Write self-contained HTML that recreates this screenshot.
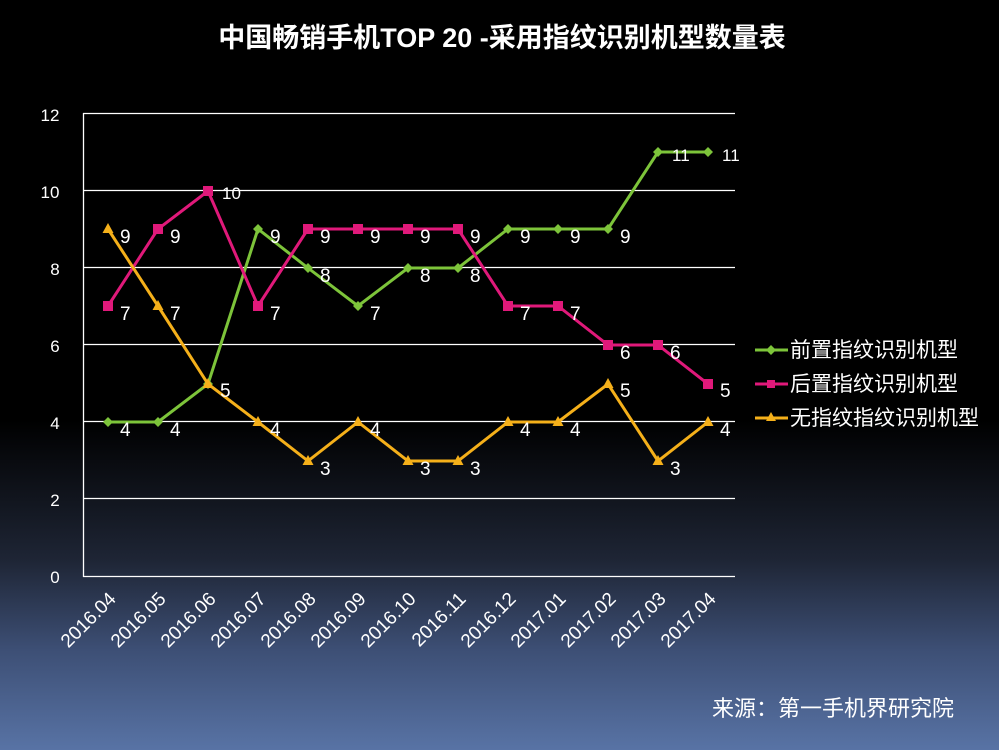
<!DOCTYPE html>
<html><head><meta charset="utf-8"><style>
body{margin:0;width:999px;height:750px;overflow:hidden;background:linear-gradient(to bottom,#000 0px,#000 420px,#1e2535 560px,#3d4f75 650px,#5873a5 750px);font-family:"Liberation Sans","Noto Sans CJK SC",sans-serif;}
svg{display:block}
</style></head><body>
<svg width="999" height="750" xmlns="http://www.w3.org/2000/svg" font-family="Liberation Sans, Noto Sans CJK SC, sans-serif">
<defs>
<marker id="md" markerWidth="12" markerHeight="12" refX="6" refY="6" markerUnits="userSpaceOnUse"><path d="M6 1l5 5-5 5-5-5z" fill="#7dc43a"/></marker>
<marker id="ms" markerWidth="12" markerHeight="12" refX="6" refY="6" markerUnits="userSpaceOnUse"><rect x="1" y="1" width="10" height="10" fill="#e0197a"/></marker>
<marker id="mt" markerWidth="12" markerHeight="12" refX="6" refY="6" markerUnits="userSpaceOnUse"><path d="M6 0l5.5 10h-11z" fill="#f5b01a"/></marker>
</defs>
<text x="502" y="47" text-anchor="middle" fill="#fff" font-size="27" font-weight="bold">中国畅销手机TOP 20 -采用指纹识别机型数量表</text>
<g stroke="#fff" stroke-width="1.3">
<line x1="83" y1="113.5" x2="735" y2="113.5"/>
<line x1="83" y1="190.5" x2="735" y2="190.5"/>
<line x1="83" y1="267.5" x2="735" y2="267.5"/>
<line x1="83" y1="344.5" x2="735" y2="344.5"/>
<line x1="83" y1="421.5" x2="735" y2="421.5"/>
<line x1="83" y1="498.5" x2="735" y2="498.5"/>
<line x1="83" y1="576.5" x2="735" y2="576.5"/>
<line x1="83.5" y1="113" x2="83.5" y2="577"/>
</g>
<g fill="#fff" font-size="17" text-anchor="middle">
<text x="50" y="121">12</text><text x="50" y="198">10</text><text x="55" y="275">8</text>
<text x="55" y="352">6</text><text x="55" y="429">4</text><text x="55" y="506">2</text><text x="55" y="583">0</text>
</g>
<g fill="#fff" font-size="19" text-anchor="end">
<text transform="translate(117,600) rotate(-45)">2016.04</text>
<text transform="translate(167,600) rotate(-45)">2016.05</text>
<text transform="translate(217,600) rotate(-45)">2016.06</text>
<text transform="translate(267,600) rotate(-45)">2016.07</text>
<text transform="translate(317,600) rotate(-45)">2016.08</text>
<text transform="translate(367,600) rotate(-45)">2016.09</text>
<text transform="translate(417,600) rotate(-45)">2016.10</text>
<text transform="translate(467,600) rotate(-45)">2016.11</text>
<text transform="translate(517,600) rotate(-45)">2016.12</text>
<text transform="translate(567,600) rotate(-45)">2017.01</text>
<text transform="translate(617,600) rotate(-45)">2017.02</text>
<text transform="translate(667,600) rotate(-45)">2017.03</text>
<text transform="translate(717,600) rotate(-45)">2017.04</text>
</g>
<g fill="none" stroke-width="3">
<polyline stroke="#7dc43a" marker-start="url(#md)" marker-mid="url(#md)" marker-end="url(#md)" points="108,422 158,422 208,384 258,229 308,268 358,306 408,268 458,268 508,229 558,229 608,229 658,152 708,152"/>
<polyline stroke="#e0197a" marker-start="url(#ms)" marker-mid="url(#ms)" marker-end="url(#ms)" points="108,306 158,229 208,191 258,306 308,229 358,229 408,229 458,229 508,306 558,306 608,345 658,345 708,384"/>
<polyline stroke="#f5b01a" marker-start="url(#mt)" marker-mid="url(#mt)" marker-end="url(#mt)" points="108,229 158,306 208,384 258,422 308,461 358,422 408,461 458,461 508,422 558,422 608,384 658,461 708,422"/>
</g>
<g fill="#fff" font-size="19">
<text x="120" y="436">4</text><text x="170" y="436">4</text><text x="220" y="397">5</text><text x="270" y="243">9</text><text x="320" y="282">8</text><text x="370" y="320">7</text><text x="420" y="282">8</text><text x="470" y="282">8</text><text x="520" y="243">9</text><text x="570" y="243">9</text><text x="620" y="243">9</text>
<text x="120" y="320">7</text><text x="170" y="243">9</text><text x="270" y="320">7</text><text x="320" y="243">9</text><text x="370" y="243">9</text><text x="420" y="243">9</text><text x="470" y="243">9</text><text x="520" y="320">7</text><text x="570" y="320">7</text><text x="620" y="359">6</text><text x="670" y="359">6</text><text x="720" y="397">5</text>
<text x="120" y="243">9</text><text x="170" y="320">7</text><text x="270" y="436">4</text><text x="320" y="475">3</text><text x="370" y="436">4</text><text x="420" y="475">3</text><text x="470" y="475">3</text><text x="520" y="436">4</text><text x="570" y="436">4</text><text x="620" y="397">5</text><text x="670" y="475">3</text><text x="720" y="436">4</text>
</g>
<g fill="#fff" font-size="17">
<text x="222" y="199">10</text><text x="672" y="161">11</text><text x="722" y="161">11</text>
</g>
<g font-size="21" fill="#fff">
<line x1="755" y1="350" x2="788" y2="350" stroke="#7dc43a" stroke-width="3"/><path d="M771 345l5 5-5 5-5-5z" fill="#7dc43a"/>
<text x="790" y="357">前置指纹识别机型</text>
<line x1="755" y1="384" x2="788" y2="384" stroke="#e0197a" stroke-width="3"/><rect x="767" y="380" width="8" height="8" fill="#e0197a"/>
<text x="790" y="391">后置指纹识别机型</text>
<line x1="755" y1="418" x2="788" y2="418" stroke="#f5b01a" stroke-width="3"/><path d="M771 412l5 9h-10z" fill="#f5b01a"/>
<text x="790" y="425">无指纹指纹识别机型</text>
</g>
<text x="712" y="716" fill="#fff" font-size="22">来源：第一手机界研究院</text>
</svg>
</body></html>
